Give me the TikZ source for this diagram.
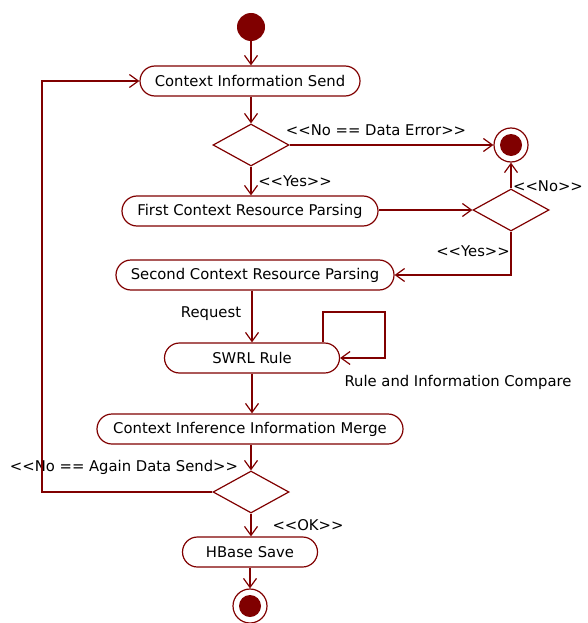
\documentclass[tikz,border=0pt]{standalone}
\usepackage{fontspec}
\setmainfont{DejaVu Sans}
\usetikzlibrary{arrows.meta,shapes.geometric,calc}
\definecolor{umlred}{HTML}{800000}
\newcommand{\LLa}{<\kern0pt<}
\newcommand{\GGa}{>\kern0pt>}
\begin{document}
\begin{tikzpicture}[x=1pt,y=-1pt,
  every node/.style={font=\fontsize{14.8}{16}\selectfont, text=black},
  act/.style={draw=umlred, line width=1.2pt, rounded corners=15pt, minimum height=30pt, inner sep=0pt, fill=white},
  dec/.style={draw=umlred, line width=1.2pt, diamond, inner sep=0pt, minimum width=76pt, minimum height=42pt},
  startnode/.style={circle, fill=umlred, minimum size=28pt, inner sep=0pt},
  endnode/.style={circle, draw=umlred, line width=1.2pt, minimum size=34pt, inner sep=0pt,
     path picture={\fill[umlred] (path picture bounding box.center) circle (11pt);}},
  arr/.style={draw=umlred, line width=1.2pt, -{Straight Barb[length=9pt,width=13pt,line width=1.2pt]}},
  lbl/.style={inner sep=0pt}
]
\useasboundingbox (0,0) rectangle (587,623);

\node[startnode] (start) at (251,27) {};
\node[act, minimum width=220pt] (cis) at (250,81) {Context Information Send};
\node[dec] (d1) at (251,145) {};
\node[endnode] (e1) at (511,145) {};
\node[act, minimum width=256pt] (fcp) at (250,211) {First Context Resource Parsing};
\node[dec] (d2) at (511,210) {};
\node[act, minimum width=278pt] (scp) at (255,275) {Second Context Resource Parsing};
\node[act, minimum width=175pt] (swrl) at (252,358) {SWRL Rule};
\node[act, minimum width=306pt] (merge) at (250,429) {Context Inference Information Merge};
\node[dec] (d3) at (251,492) {};
\node[act, minimum width=135pt] (hb) at (250,552) {HBase Save};
\node[endnode] (e2) at (250,606) {};

\node[lbl] (l1) at (376,130) {\LLa No == Data Error\GGa};
\node[lbl] (l2) at (295,181) {\LLa Yes\GGa};
\node[lbl] (l3) at (548,186) {\LLa No\GGa};
\node[lbl] (l4) at (473,251) {\LLa Yes\GGa};
\node[lbl] (l5) at (211,314) {Request};
\node[lbl] (l6) at (458,382) {Rule and Information Compare};
\node[lbl] (l7) at (124,467) {\LLa No == Again Data Send\GGa};
\node[lbl] (l8) at (308,525) {\LLa OK\GGa};

\coordinate (loopa) at (323,312);
\coordinate (loopb) at (385,312);
\coordinate (back) at (42,492);

\draw[arr] (start) -- (start |- cis.north);
\draw[arr] (cis.south -| d1) -- (d1.north);
\draw[arr] (d1.east) -- (e1.west);
\draw[arr] (d1.south) -- (fcp.north -| d1);
\draw[arr] (fcp.east |- d2) -- (d2.west);
\draw[arr] (d2.north) -- (e1.south);
\draw[arr] (d2.south) |- (scp.east);
\draw[arr] (scp.south -| swrl) -- (swrl.north);
\draw[arr] (swrl.north -| loopa) -- (loopa) -- (loopb) |- (swrl.east);
\draw[arr] (swrl.south) -- (merge.north -| swrl);
\draw[arr] (merge.south -| d3) -- (d3.north);
\draw[arr] (d3.west) -- (back) |- (cis.west);
\draw[arr] (d3.south) -- (hb.north -| d3);
\draw[arr] (hb.south -| e2) -- (e2.north);
\end{tikzpicture}
\end{document}
